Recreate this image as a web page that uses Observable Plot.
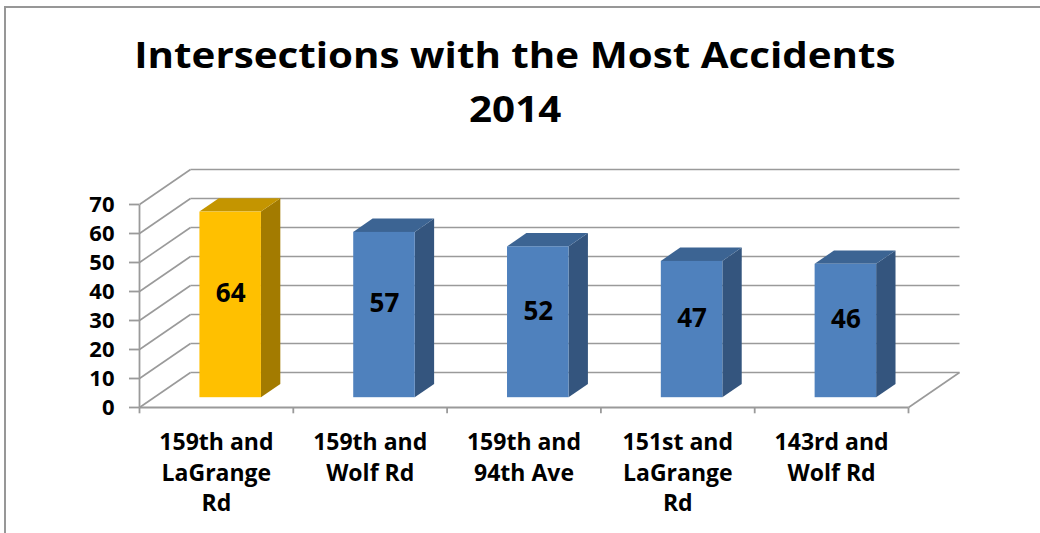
<!DOCTYPE html>
<html>
<head>
<meta charset="utf-8">
<script src="https://cdn.jsdelivr.net/npm/d3@7"></script>
<script src="https://cdn.jsdelivr.net/npm/@observablehq/plot@0.6"></script>
<style>
  html, body { margin: 0; padding: 0; background: #fff; }
  #wrap { position: relative; width: 1040px; height: 533px; overflow: hidden; font-family: "Open Sans", sans-serif; }
  #border { position: absolute; left: 4px; top: 6px; width: 1100px; height: 600px;
            border-left: 2px solid #979797; border-top: 2px solid #979797; }
  #title { position: relative; box-sizing: border-box; height: 136px; padding-top: 28px; padding-right: 10px;
           text-align: center; font-weight: bold; font-size: 36px; line-height: 54px; color: #000; }
  #title span { display: inline-block; transform: scaleX(1.12); }
  #chart { position: relative; }
</style>
</head>
<body>
<div id="wrap">
  <div id="border"></div>
  <div id="title"><span>Intersections with the Most Accidents</span><br><span>2014</span></div>
  <div id="chart"></div>
</div>
<script>
// ---- data ----
const categories = [
  "159th and\nLaGrange\nRd",
  "159th and\nWolf Rd",
  "159th and\n94th Ave",
  "151st and\nLaGrange\nRd",
  "143rd and\nWolf Rd"
];
const accidents = [64, 57, 52, 47, 46];
const highlighted = [true, false, false, false, false];
const yTicks = [0, 10, 20, 30, 40, 50, 60, 70];

// ---- styling / projection (not data) ----
const DX = 51 / 153.8;   // depth offset in x units
const DY = 35 / 2.9;     // depth offset in y units
const F1 = 0.28, F2 = 0.66;  // bar front/back depth fractions
const BW = 0.40;             // bar width in band units
const N = categories.length;
const palette = {
  gold: {front: "#FFC000", side: "#A37B00", top: "#C49500"},
  blue: {front: "#4F81BD", side: "#34557E", top: "#3C6493"}
};
const gridColor = "#9a9a9a";

const bars = categories.map((c, i) => ({
  i, cat: c, v: accidents[i], pal: highlighted[i] ? palette.gold : palette.blue
}));
const cx = d => d.i + 0.5 + F1 * DX;

const sidePts = bars.flatMap(d => [0, 1].map(t => ({
  k: d.i, fill: d.pal.side,
  x: cx(d) + BW / 2 + t * (F2 - F1) * DX,
  y1: F1 * DY + t * (F2 - F1) * DY,
  y2: d.v + F1 * DY + t * (F2 - F1) * DY
})));
const topPts = bars.flatMap(d => [0, 1].map(t => ({
  k: d.i, fill: d.pal.top,
  y: d.v + F1 * DY + t * (F2 - F1) * DY,
  x1: cx(d) - BW / 2 + t * (F2 - F1) * DX,
  x2: cx(d) + BW / 2 + t * (F2 - F1) * DX
})));

const chart = Plot.plot({
  width: 1040,
  height: 397,
  marginLeft: 139,
  marginRight: 132,
  marginTop: 68,
  marginBottom: 126,
  x: {type: "linear", domain: [0, N], axis: null},
  y: {domain: [0, 70], axis: null},
  color: {type: "identity"},
  style: {fontFamily: "'Open Sans', sans-serif", overflow: "visible", background: "transparent"},
  marks: [
    // side wall diagonals
    Plot.link(yTicks, {x1: () => 0, y1: d => d, x2: () => DX, y2: d => d + DY, stroke: gridColor, strokeWidth: 1.6}),
    // back wall gridlines
    Plot.link(yTicks, {x1: () => DX, y1: d => d + DY, x2: () => N + DX, y2: d => d + DY, stroke: gridColor, strokeWidth: 1.6}),
    // right floor edge
    Plot.link([0], {x1: () => N, y1: () => 0, x2: () => N + DX, y2: () => DY, stroke: gridColor, strokeWidth: 1.6}),
    // front floor edge (x axis)
    Plot.link([0], {x1: () => 0, y1: () => 0, x2: () => N, y2: () => 0, stroke: gridColor, strokeWidth: 1.8}),
    // front y axis line
    Plot.link([0], {x1: () => 0, y1: () => 0, x2: () => 0, y2: () => 70, stroke: gridColor, strokeWidth: 1.8}),
    // category ticks
    Plot.link(d3.range(N + 1), {x1: d => d, x2: d => d, y1: () => 0, y2: () => -2, stroke: gridColor, strokeWidth: 1.8}),
    // y axis ticks & labels
    Plot.axisY({ticks: yTicks, tickSize: 10, tickPadding: 15, stroke: gridColor, strokeWidth: 1.8,
                fill: "#000", fontSize: 22, fontWeight: "bold", label: null}),
    // bars: side, top, front
    Plot.areaY(sidePts, {x: "x", y1: "y1", y2: "y2", z: "k", fill: "fill"}),
    Plot.areaX(topPts, {y: "y", x1: "x1", x2: "x2", z: "k", fill: "fill"}),
    Plot.rect(bars, {x1: d => cx(d) - BW / 2, x2: d => cx(d) + BW / 2, y1: () => F1 * DY, y2: d => d.v + F1 * DY,
                     fill: d => d.pal.front}),
    // value labels
    Plot.text(bars, {x: cx, y: d => d.v / 2 + F1 * DY, text: d => String(d.v), dy: -11,
                     fontSize: 26, fontWeight: "bold", fill: "#000"}),
    // category labels
    Plot.text(bars, {x: d => d.i + 0.5, y: () => 0, text: "cat", lineAnchor: "top", dy: 21,
                     fontSize: 23, fontWeight: "bold", lineHeight: 1.33, fill: "#000"})
  ]
});
document.getElementById("chart").appendChild(chart);
</script>
</body>
</html>
